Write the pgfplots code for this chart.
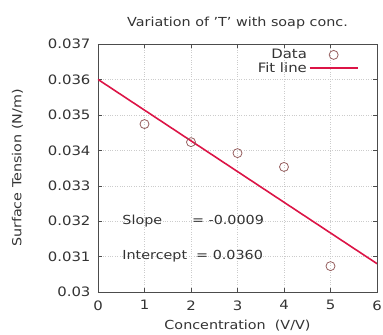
\documentclass[border=0pt]{standalone}
\usepackage{fontspec}
\setmainfont[FakeStretch=1.15]{DejaVu Sans}
\usepackage{pgfplots}
\pgfplotsset{compat=1.18}
\definecolor{fitc}{RGB}{220,20,70}
\definecolor{datac}{RGB}{150,95,95}
\begin{document}
\begin{tikzpicture}
\begin{axis}[
  scale only axis, width=279bp, height=248bp,
  xmin=0, xmax=6, ymin=0.030, ymax=0.037,
  xtick={0,1,2,3,4,5,6},
  ytick={0.030,0.031,0.032,0.033,0.034,0.035,0.036,0.037},
  yticklabels={0.03,0.031,0.032,0.033,0.034,0.035,0.036,0.037},
  scaled y ticks=false,
  /pgf/number format/assume math mode=true,
  tick label style={font=\fontsize{13}{14}\selectfont, text=black!80},
  xticklabel style={yshift=-5bp},
  yticklabel style={xshift=-4bp},
  label style={font=\fontsize{12.5}{14}\selectfont, text=black!80},
  xlabel style={yshift=-3bp},
  ylabel style={yshift=18bp},
  title style={font=\fontsize{12.5}{14}\selectfont, text=black!80, yshift=5bp},
  title={Variation of 'T' with soap conc.},
  xlabel={Concentration\ \ (V/V)},
  ylabel={Surface Tension (N/m)},
  grid=major,
  grid style={dotted, gray!40},
  axis line style={black!70},
  tick style={black!70},
  tick align=inside,
  xtick pos=both, ytick pos=both,
  major tick length=4bp,
  legend style={draw=none, fill=none, at={(0.945,0.995)}, anchor=north east,
    font=\fontsize{13}{14}\selectfont, legend cell align=right, text=black!80,
    row sep=-2bp},
  legend plot pos=right,
]
\addlegendimage{legend image code/.code={\draw[datac, thick] plot[mark=o, mark size=4.5bp] coordinates {(24bp,0bp)};}}
\addlegendentry{Data}
\addlegendimage{legend image code/.code={\draw[fitc, line width=1.6pt] (0bp,0bp) -- (48bp,0bp);}}
\addlegendentry{Fit line}
\addplot[only marks, mark=o, mark size=4.5bp, datac, thick, forget plot] coordinates {
 (1,0.03474) (2,0.03423) (3,0.03392) (4,0.03353) (5,0.03073)};
\addplot[fitc, line width=1.6pt, forget plot] coordinates {(0,0.0360) (6,0.0308)};
\node[anchor=west, font=\fontsize{12.5}{14}\selectfont, text=black!80] at (axis cs:0.45,0.0320) {Slope\hspace{2.4em}= -0.0009};
\node[anchor=west, font=\fontsize{12.5}{14}\selectfont, text=black!80] at (axis cs:0.45,0.0310) {Intercept\ \ = 0.0360};
\end{axis}
\pgfresetboundingbox
\path[use as bounding box] (-98bp,-43bp) rectangle (285bp,292bp);
\end{tikzpicture}
\end{document}
